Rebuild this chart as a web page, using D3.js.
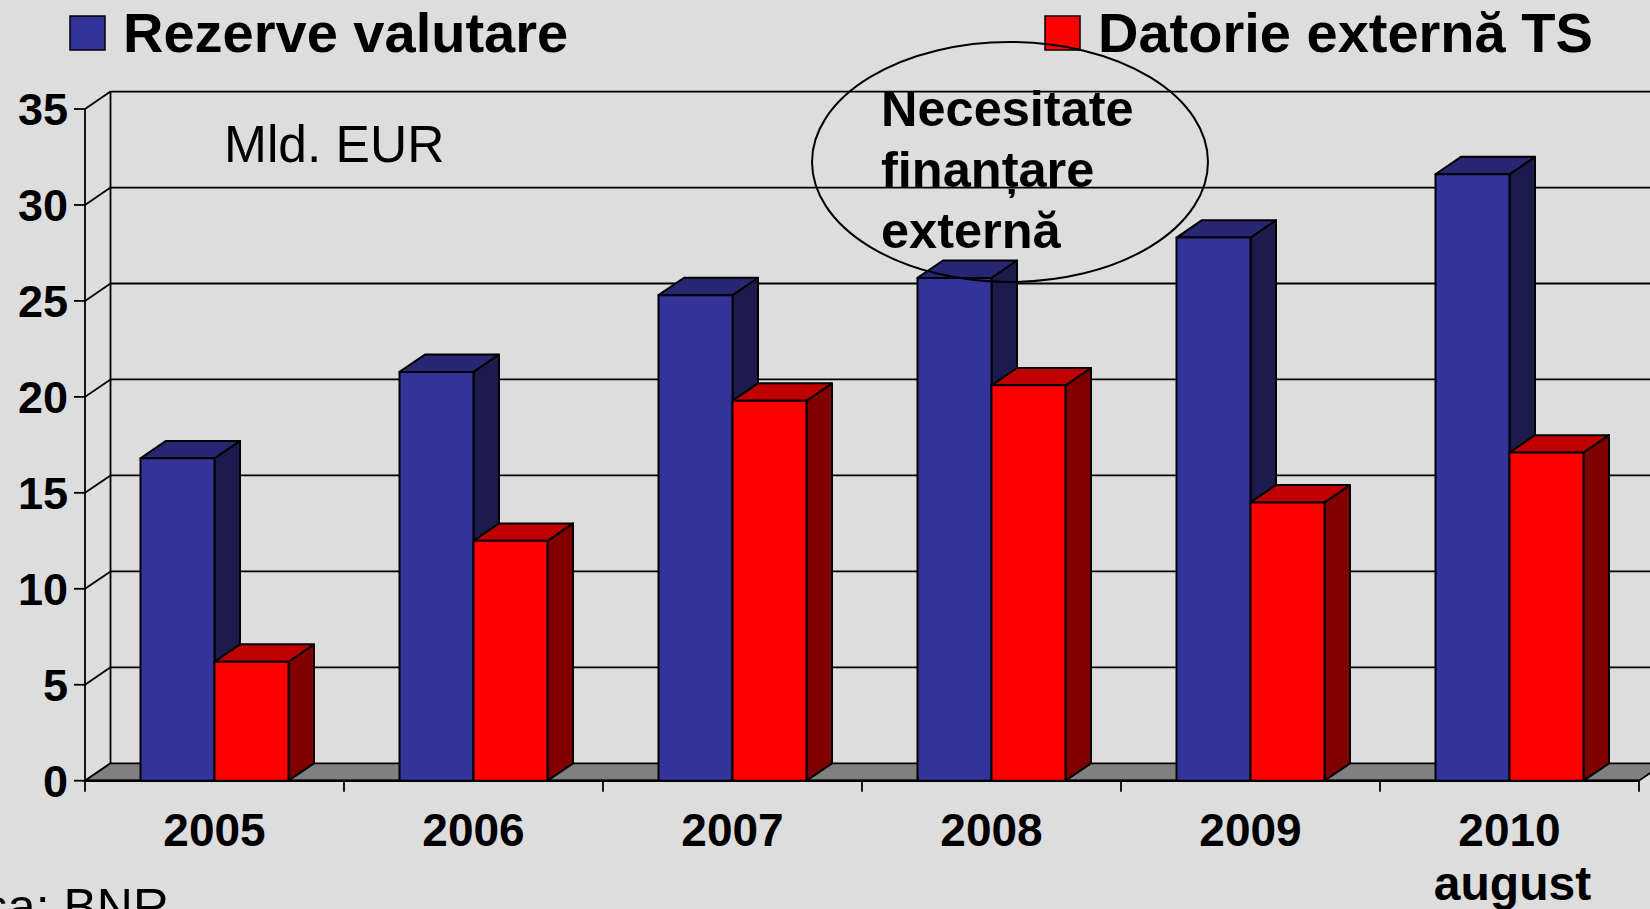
<!DOCTYPE html>
<html>
<head>
<meta charset="utf-8">
<script src="https://cdn.jsdelivr.net/npm/d3@7"></script>
<style>
  body { margin: 0; background: #dddddd; }
  svg { display: block; }
</style>
</head>
<body>
<svg width="1650" height="909"></svg>
<script>
var years = ["2005", "2006", "2007", "2008", "2009", "2010"];
var yearSub = ["", "", "", "", "", "august"];
var seriesNames = ["Rezerve valutare", "Datorie externă TS"];
var reserves = [16.8, 21.3, 25.3, 26.2, 28.3, 31.6];
var debt = [6.2, 12.5, 19.8, 20.6, 14.5, 17.1];
var yTicks = [0, 5, 10, 15, 20, 25, 30, 35];
var noteLines = ["Necesitate", "finanțare", "externă"];

var svg = d3.select("svg"),
  width = +svg.attr("width"),
  height = +svg.attr("height");

var font = "'Liberation Sans', Arial, Helvetica, sans-serif";
var dx = 25.5, dy = 17.4; // depth of the 3d box

var xScale = d3.scaleBand().domain(years).range([85, 1639]).padding(0);
var sScale = d3.scaleBand().domain([0, 1]).range([0, xScale.bandwidth()])
  .paddingInner(0).paddingOuter(0.75);
var yScale = d3.scaleLinear().domain([0, 35]).range([780.7, 109]);

var colors = [
  { front: "#333399", top: "#262673", side: "#1b1b4d" },
  { front: "#ff0000", top: "#c00000", side: "#800000" }
];

svg.append("rect").attr("width", width).attr("height", height).attr("fill", "#dddddd");

var x0 = xScale.range()[0], x1 = xScale.range()[1];
var y0 = yScale(0), yTop = yScale(35);

// back wall gridlines
var walls = svg.append("g").attr("stroke", "#000").attr("stroke-width", 1.8).attr("fill", "none");
walls.selectAll(".grid")
  .data(yTicks.slice(1))
  .enter()
  .append("line")
  .attr("x1", x0 + dx).attr("x2", x1 + dx + 40)
  .attr("y1", function (d) { return yScale(d) - dy; })
  .attr("y2", function (d) { return yScale(d) - dy; });
// left wall diagonals
walls.selectAll(".diag")
  .data(yTicks)
  .enter()
  .append("line")
  .attr("x1", x0).attr("x2", x0 + dx)
  .attr("y1", function (d) { return yScale(d); })
  .attr("y2", function (d) { return yScale(d) - dy; });
walls.append("line").attr("x1", x0 + dx).attr("x2", x0 + dx).attr("y1", yTop - dy).attr("y2", y0 - dy);
walls.append("line").attr("x1", x0).attr("x2", x0).attr("y1", yTop).attr("y2", y0);

// floor
svg.append("polygon")
  .attr("points", [[x0, y0], [x0 + dx, y0 - dy], [x1 + dx, y0 - dy], [x1, y0]].join(" "))
  .attr("fill", "#808080").attr("stroke", "#000").attr("stroke-width", 1.8);
svg.append("line").attr("x1", x0).attr("x2", x1).attr("y1", y0).attr("y2", y0)
  .attr("stroke", "#000").attr("stroke-width", 2.6);

// y ticks
svg.append("g").selectAll("line")
  .data(yTicks).enter().append("line")
  .attr("x1", x0 - 11).attr("x2", x0)
  .attr("y1", function (d) { return yScale(d); })
  .attr("y2", function (d) { return yScale(d); })
  .attr("stroke", "#000").attr("stroke-width", 1.8);
svg.append("g").selectAll("text")
  .data(yTicks).enter().append("text")
  .attr("x", 68)
  .attr("y", function (d) { return yScale(d); })
  .attr("dy", "0.36em")
  .attr("text-anchor", "end")
  .attr("font-family", font).attr("font-weight", "bold").attr("font-size", 45)
  .text(function (d) { return d; });

// x ticks
var xTickPos = years.map(function (d) { return xScale(d); }).concat([x1]);
svg.append("g").selectAll("line")
  .data(xTickPos).enter().append("line")
  .attr("x1", function (d) { return d; }).attr("x2", function (d) { return d; })
  .attr("y1", y0).attr("y2", y0 + 11)
  .attr("stroke", "#000").attr("stroke-width", 1.8);

// bars
var barData = [];
years.forEach(function (yr, i) {
  [reserves[i], debt[i]].forEach(function (v, s) {
    barData.push({ year: yr, s: s, value: v });
  });
});
var bars = svg.append("g").selectAll("g")
  .data(barData).enter().append("g")
  .attr("stroke", "#000").attr("stroke-width", 2).attr("stroke-linejoin", "round");
function bx(d) { return xScale(d.year) + sScale(d.s); }
var bw = sScale.bandwidth();
bars.append("polygon")
  .attr("points", function (d) {
    var x = bx(d), y = yScale(d.value);
    return [[x + bw, y], [x + bw + dx, y - dy], [x + bw + dx, y0 - dy], [x + bw, y0]].join(" ");
  })
  .attr("fill", function (d) { return colors[d.s].side; });
bars.append("polygon")
  .attr("points", function (d) {
    var x = bx(d), y = yScale(d.value);
    return [[x, y], [x + dx, y - dy], [x + bw + dx, y - dy], [x + bw, y]].join(" ");
  })
  .attr("fill", function (d) { return colors[d.s].top; });
bars.append("rect")
  .attr("x", bx)
  .attr("y", function (d) { return yScale(d.value); })
  .attr("width", bw)
  .attr("height", function (d) { return y0 - yScale(d.value); })
  .attr("fill", function (d) { return colors[d.s].front; });

// x labels
var xl = svg.append("g").attr("font-family", font).attr("font-weight", "bold")
  .attr("text-anchor", "middle");
xl.selectAll(".yr").data(years).enter().append("text")
  .attr("x", function (d) { return xScale(d) + xScale.bandwidth() / 2; })
  .attr("y", 846)
  .attr("font-size", 46)
  .text(function (d) { return d; });
xl.selectAll(".sub").data(years).enter().append("text")
  .attr("x", function (d) { return xScale(d) + xScale.bandwidth() / 2 + 3; })
  .attr("y", 900)
  .attr("font-size", 48)
  .text(function (d, i) { return yearSub[i]; });

// legend
var legX = [70, 1045];
var leg = svg.append("g").selectAll("g").data(seriesNames).enter().append("g");
leg.append("rect")
  .attr("x", function (d, i) { return legX[i]; }).attr("y", 16)
  .attr("width", 35).attr("height", 34)
  .attr("fill", function (d, i) { return colors[i].front; })
  .attr("stroke", "#000").attr("stroke-width", 1.5);
leg.append("text")
  .attr("x", function (d, i) { return legX[i] + 53; }).attr("y", 52)
  .attr("font-family", font).attr("font-weight", "bold").attr("font-size", 56)
  .text(function (d) { return d; });

// unit label
svg.append("text").attr("x", 224).attr("y", 162)
  .attr("font-family", font).attr("font-size", 51.5).text("Mld. EUR");

// annotation
svg.append("g").selectAll("text").data(noteLines).enter().append("text")
  .attr("x", 881).attr("y", function (d, i) { return 126 + i * 61; })
  .attr("font-family", font).attr("font-weight", "bold").attr("font-size", 50.5)
  .text(function (d) { return d; });
svg.append("ellipse")
  .attr("cx", 1010).attr("cy", 162).attr("rx", 198).attr("ry", 120)
  .attr("fill", "none").attr("stroke", "#000").attr("stroke-width", 2);

// source
svg.append("text").attr("x", 169).attr("y", 924).attr("text-anchor", "end")
  .attr("font-family", font).attr("font-size", 50).text("Sursa: BNR");
</script>
</body>
</html>
